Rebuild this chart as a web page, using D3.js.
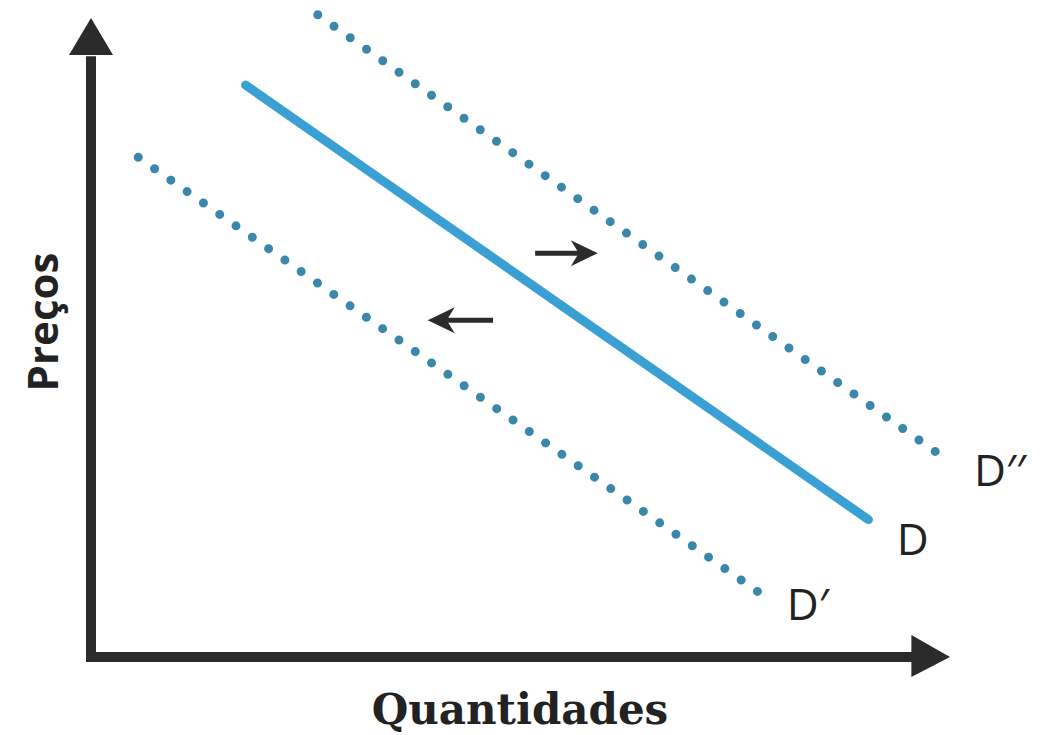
<!DOCTYPE html>
<html>
<head>
<meta charset="utf-8">
<script src="https://cdn.jsdelivr.net/npm/d3@7"></script>
<style>
  body { margin: 0; background: #fff; }
  svg { display: block; }
</style>
</head>
<body>
<svg id="demand-graph" width="1050" height="735"></svg>
<script>
var svg = d3.select("#demand-graph"),
  width = +svg.attr("width"),
  height = +svg.attr("height");

// Data (quantity, price) in abstract units 0..10
var demandD = [[1.8, 8.95], [9.05, 2.15]];
var demandDoubleShift = [[2.64, 10.05], [9.94, 3.11]];
var demandShift = [[0.55, 7.82], [7.85, 0.94]];
var shiftArrows = [
  { from: [5.17, 6.32], to: [5.9, 6.32] },
  { from: [4.68, 5.27], to: [3.92, 5.27] }
];
var curveLabels = [
  { text: "D\u2032\u2032", at: [10.28, 2.68] },
  { text: "D", at: [9.38, 1.59] },
  { text: "D\u2032", at: [8.1, 0.58] }
];
var xTitle = "Quantidades";
var yTitle = "Preços";

// Scales
const x = d3.scaleLinear().domain([0, 10]).range([91, 950]);
const y = d3.scaleLinear().domain([0, 10]).range([657, 18]);

const line = d3.line()
  .x(d => x(d[0]))
  .y(d => y(d[1]));

const ink = "#2b2b2b";

// Axes with arrowheads
svg.append("line")
  .attr("x1", x(0)).attr("y1", y(0) + 5)
  .attr("x2", x(0)).attr("y2", y(9.4))
  .attr("stroke", ink).attr("stroke-width", 10);
svg.append("path")
  .attr("d", d3.line()([[x(0) - 22, y(9.42)], [x(0), y(10)], [x(0) + 22, y(9.42)]]))
  .attr("fill", ink);

svg.append("line")
  .attr("x1", x(0) - 5).attr("y1", y(0))
  .attr("x2", x(9.6)).attr("y2", y(0))
  .attr("stroke", ink).attr("stroke-width", 10);
svg.append("path")
  .attr("d", d3.line()([[x(9.55), y(0) - 22], [x(10), y(0)], [x(9.55), y(0) + 20]]))
  .attr("fill", ink);

// Dotted shifted demand curves
svg.selectAll(".dotted")
  .data([demandDoubleShift, demandShift])
  .join("path")
  .attr("class", "dotted")
  .attr("d", line)
  .attr("fill", "none")
  .attr("stroke", "#3a87ab")
  .attr("stroke-width", 9)
  .attr("stroke-linecap", "round")
  .attr("stroke-dasharray", "0,19.9");

// Original demand curve
svg.append("path")
  .attr("d", line(demandD))
  .attr("fill", "none")
  .attr("stroke", "#3aa0d4")
  .attr("stroke-width", 9)
  .attr("stroke-linecap", "round");

// Shift arrows
svg.selectAll(".shift")
  .data(shiftArrows)
  .join("g")
  .attr("class", "shift")
  .each(function (d) {
    var g = d3.select(this);
    var x0 = x(d.from[0]), x1 = x(d.to[0]), yy = y(d.from[1]);
    var dir = x1 > x0 ? 1 : -1;
    g.append("line")
      .attr("x1", x0).attr("y1", yy)
      .attr("x2", x1 - dir * 14).attr("y2", yy)
      .attr("stroke", ink).attr("stroke-width", 5);
    g.append("path")
      .attr("d", d3.line()([[x1 - dir * 27, yy - 13], [x1, yy], [x1 - dir * 27, yy + 13], [x1 - dir * 19, yy]]))
      .attr("fill", ink);
  });

// Curve labels
svg.selectAll(".curve-label")
  .data(curveLabels)
  .join("text")
  .attr("class", "curve-label")
  .attr("x", d => x(d.at[0]))
  .attr("y", d => y(d.at[1]))
  .attr("font-family", "'Open Sans', sans-serif")
  .attr("font-size", 44)
  .attr("fill", "#222")
  .text(d => d.text);

// Axis titles
svg.append("text")
  .attr("x", 520).attr("y", 724)
  .attr("text-anchor", "middle")
  .attr("font-family", "'DejaVu Serif', serif")
  .attr("font-weight", "bold")
  .attr("font-size", 42)
  .attr("fill", "#222")
  .text(xTitle);

svg.append("text")
  .attr("transform", "translate(58,322) rotate(-90)")
  .attr("text-anchor", "middle")
  .attr("font-family", "'Open Sans', sans-serif")
  .attr("font-weight", "bold")
  .attr("font-size", 42)
  .attr("fill", "#222")
  .text(yTitle);
</script>
</body>
</html>
